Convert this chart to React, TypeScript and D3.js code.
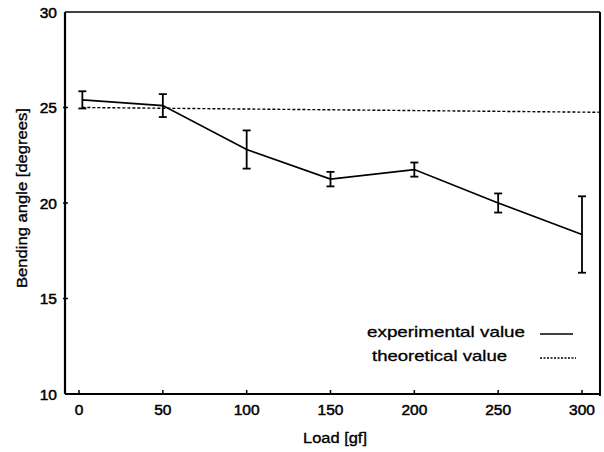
import React from "react";
import * as d3 from "d3";

// Measured bending angle vs. applied load (mean ± spread)
const loads = [2, 50, 100, 150, 200, 250, 300];
const experimental = [25.4, 25.1, 22.8, 21.25, 21.75, 20.0, 18.35];
const errors = [0.45, 0.6, 1.0, 0.38, 0.37, 0.5, 2.0];

// Theoretical bending angle
const theoryLoads = [2, 310];
const theoretical = [25.0, 24.75];

const xTicks = [0, 50, 100, 150, 200, 250, 300];
const yTicks = [10, 15, 20, 25, 30];

const legendItems = ["experimental value", "theoretical value"];

const W = 604;
const H = 452;
const FONT = "'Liberation Sans', Arial, Helvetica, sans-serif";

export default function App() {
  const left = 65;
  const right = 600;
  const top = 12;
  const bottom = 394;

  const x = d3.scaleLinear().domain([0, 300]).range([79, 582]);
  const y = d3.scaleLinear().domain([10, 30]).range([bottom, top]);

  const line = d3
    .line<number>()
    .x((_, i) => x(loads[i]))
    .y((d) => y(d));

  const theoryLine = d3
    .line<number>()
    .x((_, i) => x(theoryLoads[i]))
    .y((d) => y(d));

  const capW = 4;

  return (
    <svg
      width={W}
      height={H}
      style={{ position: "absolute", left: 0, top: 0, background: "#fff" }}
      fontFamily={FONT}
    >
      <rect x={0} y={0} width={W} height={H} fill="#fff" />
      {/* frame */}
      <line x1={left} x2={right} y1={top} y2={top} stroke="#000" strokeWidth={1.6} />
      <line x1={right} x2={right} y1={top} y2={bottom + 2} stroke="#000" strokeWidth={2} />
      <line x1={left} x2={left} y1={top} y2={bottom} stroke="#000" strokeWidth={2.2} />
      <line x1={left} x2={right} y1={bottom} y2={bottom} stroke="#000" strokeWidth={2.2} />

      {/* y ticks */}
      {yTicks.map((t) => (
        <g key={t}>
          {t !== 10 && t !== 30 && (
            <line x1={left - 2} x2={left + 3} y1={y(t)} y2={y(t)} stroke="#000" strokeWidth={1.5} />
          )}
          <text
            x={left - 8}
            y={y(t)}
            dy="0.36em"
            textAnchor="end"
            fontSize={15.5}
            stroke="#000"
            strokeWidth={0.5}
          >
            {t}
          </text>
        </g>
      ))}

      {/* x ticks */}
      {xTicks.map((t) => (
        <g key={t}>
          <line x1={x(t)} x2={x(t)} y1={bottom} y2={bottom - 4} stroke="#000" strokeWidth={1.5} />
          <text
            x={x(t)}
            y={bottom + 21}
            textAnchor="middle"
            fontSize={15.5}
            stroke="#000"
            strokeWidth={0.5}
          >
            {t}
          </text>
        </g>
      ))}

      {/* axis titles */}
      <text
        x={335}
        y={443}
        textAnchor="middle"
        fontSize={15.5}
        textLength={64}
        lengthAdjust="spacingAndGlyphs"
        stroke="#000"
        strokeWidth={0.35}
      >
        Load [gf]
      </text>
      <text
        transform={`translate(27,198) rotate(-90)`}
        textAnchor="middle"
        fontSize={15}
        textLength={180}
        lengthAdjust="spacingAndGlyphs"
        stroke="#000"
        strokeWidth={0.35}
      >
        Bending angle [degrees]
      </text>

      {/* theoretical curve */}
      <path
        d={theoryLine(theoretical) || ""}
        fill="none"
        stroke="#000"
        strokeWidth={1.4}
        strokeDasharray="3,2"
      />

      {/* experimental curve */}
      <path d={line(experimental) || ""} fill="none" stroke="#000" strokeWidth={1.7} />

      {/* error bars */}
      {loads.map((l, i) => {
        const cx = x(l);
        const y0 = y(experimental[i] - errors[i]);
        const y1 = y(experimental[i] + errors[i]);
        return (
          <g key={l} stroke="#000" strokeWidth={1.8}>
            <line x1={cx} x2={cx} y1={y0} y2={y1} />
            <line x1={cx - capW} x2={cx + capW} y1={y0} y2={y0} />
            <line x1={cx - capW} x2={cx + capW} y1={y1} y2={y1} />
          </g>
        );
      })}

      {/* legend */}
      <text x={367} y={337} fontSize={15} textLength={158} lengthAdjust="spacingAndGlyphs" stroke="#000" strokeWidth={0.3}>
        {legendItems[0]}
      </text>
      <line x1={540} x2={573} y1={334} y2={334} stroke="#000" strokeWidth={1.5} />
      <text x={372} y={361} fontSize={15} textLength={135} lengthAdjust="spacingAndGlyphs" stroke="#000" strokeWidth={0.3}>
        {legendItems[1]}
      </text>
      <line x1={540} x2={576} y1={358} y2={358} stroke="#000" strokeWidth={1.4} strokeDasharray="2,1.5" />
    </svg>
  );
}
